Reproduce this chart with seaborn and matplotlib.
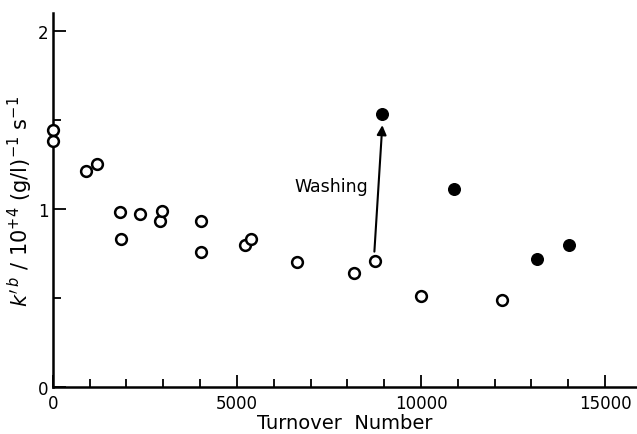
"""Turnover number vs rate constant, before and after washing."""

import matplotlib.pyplot as plt
import pandas as pd
import seaborn as sns
from matplotlib.ticker import MultipleLocator

# open circles: before washing
turnover_before = [0, 0, 890, 1210, 1820, 1850, 2370, 2900, 2970, 4020, 4020,
                   5210, 5370, 6620, 8190, 8740, 10000, 12190]
k_before = [1.44, 1.38, 1.21, 1.25, 0.98, 0.83, 0.97, 0.93, 0.99, 0.93, 0.76,
            0.80, 0.83, 0.70, 0.64, 0.71, 0.51, 0.49]

# filled circles: after washing
turnover_after = [8950, 10900, 13150, 14030]
k_after = [1.53, 1.11, 0.72, 0.80]

before = pd.DataFrame({"turnover": turnover_before, "k": k_before})
after = pd.DataFrame({"turnover": turnover_after, "k": k_after})

sns.set_style("ticks", {"axes.edgecolor": "black", "text.color": "black",
                        "xtick.color": "black", "ytick.color": "black",
                        "axes.labelcolor": "black"})
plt.rcParams["font.family"] = ["DejaVu Sans"]

fig = plt.figure(figsize=(6.37, 4.35), dpi=100)
ax = fig.add_axes([0.083, 0.108, 0.917, 0.86])

sns.scatterplot(data=before, x="turnover", y="k", ax=ax, marker="o",
                s=60, facecolor="white", edgecolor="black", linewidth=1.8,
                clip_on=False, zorder=3)
sns.scatterplot(data=after, x="turnover", y="k", ax=ax, marker="o",
                s=70, color="black", edgecolor="black", linewidth=1,
                clip_on=False, zorder=3)

ax.annotate("", xy=(8950, 1.47), xytext=(8735, 0.76),
            arrowprops=dict(arrowstyle="-|>", color="black", lw=1.5,
                            mutation_scale=14, shrinkA=0, shrinkB=0))
ax.text(8560, 1.13, "Washing", ha="right", va="center", fontsize=12.5)

ax.set_xlim(0, 15870)
ax.set_ylim(0, 2.1)
ax.xaxis.set_major_locator(MultipleLocator(5000))
ax.xaxis.set_minor_locator(MultipleLocator(1000))
ax.yaxis.set_major_locator(MultipleLocator(1))
ax.yaxis.set_minor_locator(MultipleLocator(0.5))
ax.tick_params(which="both", direction="in", width=1.3, labelsize=12)
ax.tick_params(axis="x", pad=5)
ax.tick_params(axis="y", pad=3)
ax.tick_params(which="major", length=9)
ax.tick_params(which="minor", length=6)

for side in ["top", "right"]:
    ax.spines[side].set_visible(False)
for side in ["left", "bottom"]:
    ax.spines[side].set_linewidth(1.8)

ax.set_xlabel("Turnover  Number", fontsize=14, labelpad=1)
ax.set_ylabel(r"$k'^{\,b}$ / 10$^{+4}$ (g/l)$^{-1}$ s$^{-1}$", fontsize=15,
              labelpad=2)

fig.savefig("out.png", dpi=100)
plt.close(fig)
